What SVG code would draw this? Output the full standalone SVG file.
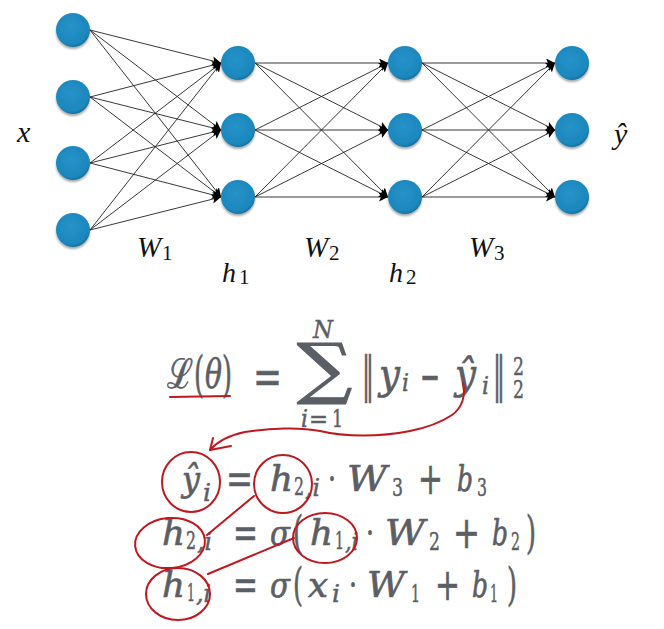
<svg xmlns="http://www.w3.org/2000/svg" width="664" height="629" viewBox="0 0 664 629">
<defs>
<marker id="ah" markerUnits="userSpaceOnUse" markerWidth="10" markerHeight="10" refX="9" refY="4.5" orient="auto">
<path d="M0,0 L9,4.5 L0,9 L2,4.5 z" fill="#000"/>
</marker>
<radialGradient id="ng" cx="0.45" cy="0.4" r="0.6">
<stop offset="0" stop-color="#2593c8"/>
<stop offset="0.85" stop-color="#1c87bd"/>
<stop offset="1" stop-color="#17729f"/>
</radialGradient>
<filter id="sh" x="-30%" y="-30%" width="160%" height="170%">
<feGaussianBlur in="SourceAlpha" stdDeviation="1.2"/>
<feOffset dy="1.5"/>
<feComponentTransfer><feFuncA type="linear" slope="0.35"/></feComponentTransfer>
<feMerge><feMergeNode/><feMergeNode in="SourceGraphic"/></feMerge>
</filter>
</defs>
<style>
.n{fill:url(#ng);filter:url(#sh)}
.c line{stroke:#222;stroke-width:0.9;marker-end:url(#ah)}
.lb{font-family:"Liberation Serif","DejaVu Serif",serif;font-style:italic;fill:#111}
.ls{font-family:"Liberation Serif","DejaVu Serif",serif;fill:#111}
.m,.r{font-family:"DejaVu Serif",serif;fill:#5c5e66;stroke:#5c5e66;stroke-width:0.7;font-size:36px}
.m{font-style:italic}
.L{font-size:41px}
.o{font-size:44px}
.OL{font-size:48px}
.s{font-size:24px;stroke-width:0.5}
.red{fill:none;stroke:#c01820;stroke-width:2;stroke-linecap:round;stroke-linejoin:round}
</style>
<rect width="664" height="629" fill="#fff"/>
<g id="connectors" class="c">
<line x1="90" y1="30" x2="221" y2="63"/><line x1="90" y1="30" x2="221" y2="130"/><line x1="90" y1="30" x2="221" y2="197"/>
<line x1="90" y1="97" x2="221" y2="63"/><line x1="90" y1="97" x2="221" y2="130"/><line x1="90" y1="97" x2="221" y2="197"/>
<line x1="90" y1="163" x2="221" y2="63"/><line x1="90" y1="163" x2="221" y2="130"/><line x1="90" y1="163" x2="221" y2="197"/>
<line x1="90" y1="230" x2="221" y2="63"/><line x1="90" y1="230" x2="221" y2="130"/><line x1="90" y1="230" x2="221" y2="197"/>
<line x1="255" y1="63" x2="388" y2="63"/><line x1="255" y1="63" x2="388" y2="130"/><line x1="255" y1="63" x2="388" y2="197"/>
<line x1="255" y1="130" x2="388" y2="63"/><line x1="255" y1="130" x2="388" y2="130"/><line x1="255" y1="130" x2="388" y2="197"/>
<line x1="255" y1="197" x2="388" y2="63"/><line x1="255" y1="197" x2="388" y2="130"/><line x1="255" y1="197" x2="388" y2="197"/>
<line x1="422" y1="63" x2="555" y2="63"/><line x1="422" y1="63" x2="555" y2="130"/><line x1="422" y1="63" x2="555" y2="197"/>
<line x1="422" y1="130" x2="555" y2="63"/><line x1="422" y1="130" x2="555" y2="130"/><line x1="422" y1="130" x2="555" y2="197"/>
<line x1="422" y1="197" x2="555" y2="63"/><line x1="422" y1="197" x2="555" y2="130"/><line x1="422" y1="197" x2="555" y2="197"/>
</g>
<g id="in1"><circle class="n" cx="73" cy="30" r="17"/></g>
<g id="in2"><circle class="n" cx="73" cy="97" r="17"/></g>
<g id="in3"><circle class="n" cx="73" cy="163" r="17"/></g>
<g id="in4"><circle class="n" cx="73" cy="230" r="17"/></g>
<g id="h1a"><circle class="n" cx="238" cy="63" r="17"/></g>
<g id="h1b"><circle class="n" cx="238" cy="130" r="17"/></g>
<g id="h1c"><circle class="n" cx="238" cy="197" r="17"/></g>
<g id="h2a"><circle class="n" cx="405" cy="63" r="17"/></g>
<g id="h2b"><circle class="n" cx="405" cy="130" r="17"/></g>
<g id="h2c"><circle class="n" cx="405" cy="197" r="17"/></g>
<g id="outa"><circle class="n" cx="572" cy="63" r="17"/></g>
<g id="outb"><circle class="n" cx="572" cy="130" r="17"/></g>
<g id="outc"><circle class="n" cx="572" cy="197" r="17"/></g>
<g id="labels">
<text class="lb" x="17" y="142" font-size="30">x</text>
<text class="lb" x="614" y="144" font-size="30">ŷ</text>
<text class="lb" x="137" y="257" font-size="29">W</text><text class="ls" x="162" y="260" font-size="21">1</text>
<text class="lb" x="304" y="257" font-size="29">W</text><text class="ls" x="329" y="260" font-size="21">2</text>
<text class="lb" x="469" y="257" font-size="29">W</text><text class="ls" x="494" y="260" font-size="21">3</text>
<text class="lb" x="222" y="282" font-size="28">h</text><text class="ls" x="239" y="284" font-size="21">1</text>
<text class="lb" x="389" y="282" font-size="28">h</text><text class="ls" x="406" y="284" font-size="21">2</text>
</g>
<g id="loss">
<text class="r L" x="167" y="388" textLength="26" lengthAdjust="spacingAndGlyphs">ℒ</text>
<text class="r OL" x="194" y="391" textLength="10" lengthAdjust="spacingAndGlyphs">(</text>
<text class="m L" x="205" y="388" textLength="17" lengthAdjust="spacingAndGlyphs">θ</text>
<text class="r OL" x="222" y="391" textLength="10" lengthAdjust="spacingAndGlyphs">)</text>
<text class="r OL" x="253" y="394" textLength="29" lengthAdjust="spacingAndGlyphs">=</text>
<text class="r" transform="translate(297,391) scale(1,1.85)" x="0" y="0" font-size="60" textLength="55" lengthAdjust="spacingAndGlyphs">∑</text>
<text class="m s" x="313" y="338" textLength="20" lengthAdjust="spacingAndGlyphs">N</text>
<text class="m s" x="301" y="427" textLength="7" lengthAdjust="spacingAndGlyphs">i</text>
<text class="r s" x="309" y="427" textLength="19" lengthAdjust="spacingAndGlyphs">=</text>
<text class="r s" x="332" y="427" textLength="11" lengthAdjust="spacingAndGlyphs">1</text>
<text class="r OL" x="362" y="392" textLength="12" lengthAdjust="spacingAndGlyphs">‖</text>
<text class="m L" x="379" y="388" textLength="21" lengthAdjust="spacingAndGlyphs">y</text>
<text class="m s" x="402" y="391" textLength="7" lengthAdjust="spacingAndGlyphs">i</text>
<text class="r OL" x="420" y="393" textLength="20" lengthAdjust="spacingAndGlyphs">−</text>
<text class="m L" x="455" y="388" textLength="21" lengthAdjust="spacingAndGlyphs">ŷ</text>
<text class="m s" x="482" y="394" textLength="7" lengthAdjust="spacingAndGlyphs">i</text>
<text class="r OL" x="493" y="392" textLength="12" lengthAdjust="spacingAndGlyphs">‖</text>
<text class="r s" x="513" y="375" textLength="11" lengthAdjust="spacingAndGlyphs">2</text>
<text class="r s" x="513" y="398" textLength="11" lengthAdjust="spacingAndGlyphs">2</text>
</g>
<g id="eq1">
<text class="m" x="182" y="491" textLength="18" lengthAdjust="spacingAndGlyphs">ŷ</text>
<text class="m s" x="203" y="501" textLength="8" lengthAdjust="spacingAndGlyphs">i</text>
<text class="r o" x="226" y="494" textLength="27" lengthAdjust="spacingAndGlyphs">=</text>
<text class="m" x="270" y="491" textLength="23" lengthAdjust="spacingAndGlyphs">h</text>
<text class="r s" x="294" y="495" textLength="10" lengthAdjust="spacingAndGlyphs">2</text>
<text class="m s" x="305" y="496" textLength="15" lengthAdjust="spacingAndGlyphs">,i</text>
<text class="r" x="328" y="491" textLength="8" lengthAdjust="spacingAndGlyphs">·</text>
<text class="m" x="347" y="491" textLength="40" lengthAdjust="spacingAndGlyphs">W</text>
<text class="r s" x="392" y="496" textLength="11" lengthAdjust="spacingAndGlyphs">3</text>
<text class="r o" x="418" y="494" textLength="25" lengthAdjust="spacingAndGlyphs">+</text>
<text class="m" x="457" y="491" textLength="16" lengthAdjust="spacingAndGlyphs">b</text>
<text class="r s" x="477" y="496" textLength="10" lengthAdjust="spacingAndGlyphs">3</text>
</g>
<g id="eq2">
<text class="m" x="162" y="545" textLength="23" lengthAdjust="spacingAndGlyphs">h</text>
<text class="r s" x="186" y="549" textLength="10" lengthAdjust="spacingAndGlyphs">2</text>
<text class="m s" x="197" y="550" textLength="15" lengthAdjust="spacingAndGlyphs">,i</text>
<text class="r o" x="233" y="548" textLength="25" lengthAdjust="spacingAndGlyphs">=</text>
<text class="m" x="270" y="545" textLength="20" lengthAdjust="spacingAndGlyphs">σ</text>
<text class="r o" x="293" y="548" textLength="10" lengthAdjust="spacingAndGlyphs">(</text>
<text class="m" x="310" y="545" textLength="23" lengthAdjust="spacingAndGlyphs">h</text>
<text class="r s" x="335" y="549" textLength="9" lengthAdjust="spacingAndGlyphs">1</text>
<text class="m s" x="345" y="550" textLength="13" lengthAdjust="spacingAndGlyphs">,i</text>
<text class="r" x="366" y="545" textLength="8" lengthAdjust="spacingAndGlyphs">·</text>
<text class="m" x="385" y="545" textLength="40" lengthAdjust="spacingAndGlyphs">W</text>
<text class="r s" x="429" y="550" textLength="11" lengthAdjust="spacingAndGlyphs">2</text>
<text class="r o" x="453" y="548" textLength="27" lengthAdjust="spacingAndGlyphs">+</text>
<text class="m" x="492" y="545" textLength="16" lengthAdjust="spacingAndGlyphs">b</text>
<text class="r s" x="511" y="550" textLength="9" lengthAdjust="spacingAndGlyphs">2</text>
<text class="r o" x="526" y="548" textLength="10" lengthAdjust="spacingAndGlyphs">)</text>
</g>
<g id="eq3">
<text class="m" x="162" y="597" textLength="23" lengthAdjust="spacingAndGlyphs">h</text>
<text class="r s" x="187" y="601" textLength="8" lengthAdjust="spacingAndGlyphs">1</text>
<text class="m s" x="196" y="602" textLength="15" lengthAdjust="spacingAndGlyphs">,i</text>
<text class="r o" x="233" y="600" textLength="25" lengthAdjust="spacingAndGlyphs">=</text>
<text class="m" x="270" y="597" textLength="20" lengthAdjust="spacingAndGlyphs">σ</text>
<text class="r o" x="293" y="600" textLength="10" lengthAdjust="spacingAndGlyphs">(</text>
<text class="m" x="308" y="597" textLength="20" lengthAdjust="spacingAndGlyphs">x</text>
<text class="m s" x="332" y="602" textLength="8" lengthAdjust="spacingAndGlyphs">i</text>
<text class="r" x="349" y="597" textLength="8" lengthAdjust="spacingAndGlyphs">·</text>
<text class="m" x="367" y="597" textLength="38" lengthAdjust="spacingAndGlyphs">W</text>
<text class="r s" x="411" y="602" textLength="9" lengthAdjust="spacingAndGlyphs">1</text>
<text class="r o" x="435" y="600" textLength="25" lengthAdjust="spacingAndGlyphs">+</text>
<text class="m" x="472" y="597" textLength="16" lengthAdjust="spacingAndGlyphs">b</text>
<text class="r s" x="490" y="602" textLength="8" lengthAdjust="spacingAndGlyphs">1</text>
<text class="r o" x="507" y="600" textLength="10" lengthAdjust="spacingAndGlyphs">)</text>
</g>
<g id="annotations" class="red">
<path d="M170,397 L230,396"/>
<path d="M463,383 C466,396 462,408 452,415 C440,423 425,428 410,431 C380,437 345,437 320,431 C300,427 270,428 245,432 C230,435 218,441 210,450"/>
<path d="M213,438 L210,450 L231,446"/>
<ellipse cx="191" cy="482" rx="29" ry="30"/>
<ellipse cx="283" cy="484" rx="29" ry="29"/>
<ellipse cx="170" cy="543" rx="35" ry="25" transform="rotate(-5 170 543)"/>
<ellipse cx="325" cy="538" rx="32" ry="25"/>
<ellipse cx="178" cy="594" rx="32" ry="26"/>
<path d="M254,496 L207,535"/>
<path d="M294,538 L208,574"/>
</g>
</svg>
